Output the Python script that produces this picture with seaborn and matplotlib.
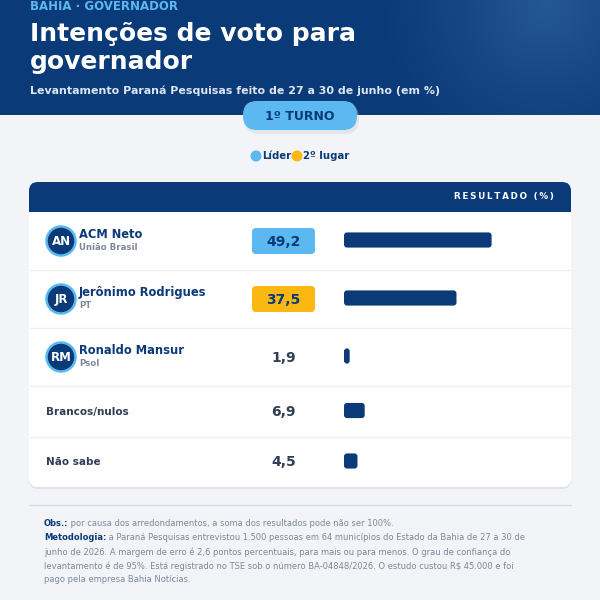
import numpy as np
import pandas as pd
import matplotlib
matplotlib.use("Agg")
import matplotlib.pyplot as plt
import seaborn as sns
from matplotlib.patches import FancyBboxPatch, Circle, Rectangle

# data
labels = ["ACM Neto", "Jerônimo Rodrigues", "Ronaldo Mansur", "Brancos/nulos", "Não sabe"]
parties = ["União Brasil", "PT", "Psol", "", ""]
initials = ["AN", "JR", "RM", "", ""]
values = [49.2, 37.5, 1.9, 6.9, 4.5]
value_labels = ["49,2", "37,5", "1,9", "6,9", "4,5"]

NAVY = "#0b3a78"
LIGHT = "#5bb8f0"
GOLD = "#fbb812"
BG = "#f2f4f8"
SLATE = "#2f3e55"
GREY = "#7d8899"

sns.set_theme(style="white")
plt.rcParams["font.family"] = ["DejaVu Sans"]

fig = plt.figure(figsize=(6, 6), dpi=100)
fig.patch.set_facecolor(BG)

# overlay axes in pixel coordinates
ov = fig.add_axes([0, 0, 1, 1])
ov.set_xlim(0, 600)
ov.set_ylim(600, 0)
ov.axis("off")

# header with soft glow top right
yy, xx = np.mgrid[0:115, 0:600]
d = np.sqrt((xx - 545) ** 2 + (yy - 5) ** 2)
glow = np.clip(1 - d / 170, 0, 1) ** 1.2
base = np.array([11, 58, 120]) / 255
hi = np.array([36, 88, 148]) / 255
img = base + (hi - base) * glow[..., None]
ov.imshow(img, extent=[0, 600, 115, 0], aspect="auto", zorder=0, interpolation="bilinear")

ov.text(30, 7, "BAHIA · GOVERNADOR", color=LIGHT, fontsize=8.5, fontweight="bold",
        va="center", ha="left")
ov.text(30, 48, "Intenções de voto para\ngovernador", color="white", fontsize=18,
        fontweight="bold", va="center", ha="left", linespacing=1.2)
ov.text(30, 91, "Levantamento Paraná Pesquisas feito de 27 a 30 de junho (em %)",
        color="#dce6f2", fontsize=7.9, fontweight="bold", va="center", ha="left")

# turno pill
ov.add_patch(FancyBboxPatch((245, 104), 114, 30, boxstyle="round,pad=0,rounding_size=14",
                            fc="#c9d3e0", ec="none", alpha=0.4, zorder=2))
ov.add_patch(FancyBboxPatch((243, 101), 114, 29, boxstyle="round,pad=0,rounding_size=14",
                            fc=LIGHT, ec="none", zorder=3))
ov.text(300, 116, "1º TURNO", color=NAVY, fontsize=9, fontweight="bold",
        ha="center", va="center", zorder=4)

# legend
ov.add_patch(Circle((256, 156), 5.5, fc=LIGHT, ec="none"))
ov.text(262, 156, "Líder", color=NAVY, fontsize=7.3, fontweight="bold", va="center")
ov.add_patch(Circle((297, 156), 5.5, fc=GOLD, ec="none"))
ov.text(303, 156, "2º lugar", color=NAVY, fontsize=7.3, fontweight="bold", va="center")

# card
ov.add_patch(FancyBboxPatch((29, 184), 542, 305, boxstyle="round,pad=0,rounding_size=9",
                            fc="#dfe4ec", ec="none", zorder=1))
ov.add_patch(FancyBboxPatch((29, 182), 542, 305, boxstyle="round,pad=0,rounding_size=9",
                            fc="white", ec="none", zorder=2))
ov.add_patch(FancyBboxPatch((29, 182), 542, 30, boxstyle="round,pad=0,rounding_size=9",
                            fc=NAVY, ec="none", zorder=3))
ov.add_patch(Rectangle((29, 200), 542, 12, fc=NAVY, ec="none", zorder=3))
ov.text(554, 197, "\u2009".join("RESULTADO (%)"), color="white",
        fontsize=6.3, fontweight="bold", ha="right", va="center", zorder=4)

row_h = [58, 58, 58, 51, 50]
edges = 212 + np.concatenate([[0], np.cumsum(row_h)])
centers = (edges[:-1] + edges[1:]) / 2
for e in edges[1:-1]:
    ov.plot([30, 570], [e, e], color="#eef0f4", lw=1, zorder=3)

for i, lab in enumerate(labels):
    c = centers[i]
    if initials[i]:
        ov.add_patch(Circle((61, c), 14.5, fc=NAVY, ec=LIGHT, lw=1.8, zorder=4))
        ov.text(61, c + 0.5, initials[i], color="white", fontsize=8.5, fontweight="bold",
                ha="center", va="center", zorder=5)
        ov.text(79, c - 6.5, lab, color=NAVY, fontsize=8.3, fontweight="bold",
                ha="left", va="center", zorder=5)
        ov.text(79, c + 7, parties[i], color=GREY, fontsize=6.2, fontweight="bold",
                ha="left", va="center", zorder=5)
    else:
        ov.text(46, c, lab, color=SLATE, fontsize=7.5, fontweight="bold",
                ha="left", va="center", zorder=5)
    if i < 2:
        ov.add_patch(FancyBboxPatch((252, c - 13), 63, 26,
                                    boxstyle="round,pad=0,rounding_size=4",
                                    fc=[LIGHT, GOLD][i], ec="none", zorder=4))
        col = NAVY
    else:
        col = SLATE
    ov.text(283.5, c + 0.5, value_labels[i], color=col, fontsize=10, fontweight="bold",
            ha="center", va="center", zorder=5)

# bars
px_per_pct = 3.0
left, right = 344, 570
bx = fig.add_axes([left / 600, 1 - 487 / 600, (right - left) / 600, (487 - 212) / 600])
bx.patch.set_alpha(0)
df = pd.DataFrame({"valor": values, "pos": centers - 1})
sns.barplot(data=df, x="valor", y="pos", orient="h", native_scale=True,
            width=15 / 50, color=NAVY, saturation=1, ax=bx)
bx.set_xlim(0, (right - left) / px_per_pct)
bx.set_ylim(487, 212)
bx.axis("off")
for p in list(bx.patches):
    x0, y0, w, h = p.get_x(), p.get_y(), p.get_width(), p.get_height()
    r = min(1.0, w / 2)
    bx.add_patch(FancyBboxPatch((x0, y0), w, h,
                                boxstyle=f"round,pad=0,rounding_size={r}",
                                mutation_aspect=px_per_pct, fc=NAVY, ec="none"))
    p.remove()

# footer
ov.plot([29, 571], [505, 505], color="#d8dde5", lw=1)
fs = 6.0
rend = fig.canvas.get_renderer()
lines = [
    ("Obs.:", " por causa dos arredondamentos, a soma dos resultados pode não ser 100%."),
    ("Metodologia:", " a Paraná Pesquisas entrevistou 1.500 pessoas em 64 municípios do Estado da Bahia de 27 a 30 de"),
    ("", "junho de 2026. A margem de erro é 2,6 pontos percentuais, para mais ou para menos. O grau de confiança do"),
    ("", "levantamento é de 95%. Está registrado no TSE sob o número BA-04848/2026. O estudo custou R$ 45.000 e foi"),
    ("", "pago pela empresa Bahia Notícias."),
]
for k, (b, rest) in enumerate(lines):
    y = 524 + 14 * k
    x = 44
    if b:
        t = ov.text(x, y, b, color=NAVY, fontsize=fs, fontweight="bold", va="center")
        bb = t.get_window_extent(renderer=rend)
        x = x + bb.width
    ov.text(x, y, rest, color=GREY, fontsize=fs, va="center", parse_math=False)

fig.savefig("out.png", dpi=100, facecolor=fig.get_facecolor())
